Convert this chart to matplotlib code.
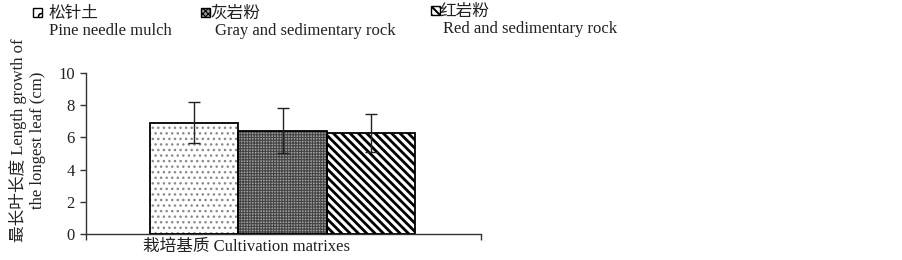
import numpy as np
import matplotlib
matplotlib.use('Agg')
import matplotlib.pyplot as plt
from matplotlib.patches import Rectangle

# Datos
grupos_cn = ['松针土', '灰岩粉', '红岩粉']
grupos_en = ['Pine needle mulch', 'Gray and sedimentary rock', 'Red and sedimentary rock']
medias = [6.9, 6.42, 6.29]
errores = [1.27, 1.4, 1.17]
yticks = [0, 2, 4, 6, 8, 10]
etiqueta_x = '栽培基质 Cultivation matrixes'
etiqueta_y = '最长叶长度 Length growth of\nthe longest leaf (cm)'

fuente = ['Liberation Serif', 'Noto Sans CJK SC', 'DejaVu Sans']
plt.rcParams['font.family'] = fuente
plt.rcParams['font.size'] = 12

# Estilos de relleno de cada barra
estilos = [
    dict(facecolor='white', hatch='...', hcolor='#8a8a8a', hlw=1.0),
    dict(facecolor='#a0a0a0', hatch='++++++', hcolor='#444444', hlw=0.8),
    dict(facecolor='white', hatch='\\\\\\\\', hcolor='black', hlw=2.0),
]

fig = plt.figure(figsize=(9.03, 2.6), dpi=100)
ax = fig.add_axes([86 / 903, 26 / 260, 395 / 903, 161 / 260])

ancho = 0.224
x = 0.4975 + (np.arange(len(medias)) - 1) * ancho

for i, est in enumerate(estilos):
    # relleno con trama
    b = ax.bar(x[i], medias[i], width=ancho, color=est['facecolor'],
               edgecolor=est['hcolor'], hatch=est['hatch'], linewidth=0, zorder=2)
    for p in b:
        if hasattr(p, 'set_hatch_linewidth'):
            p.set_hatch_linewidth(est['hlw'])
    # contorno negro
    ax.bar(x[i], medias[i], width=ancho, fill=False, edgecolor='black',
           linewidth=1.3, zorder=3)

ax.errorbar(x, medias, yerr=errores, fmt='none', ecolor='#222222',
            elinewidth=1.0, capsize=4, capthick=1.0, zorder=4)

ax.set_xlim(0, 1)
ax.set_ylim(0, 10)
ax.set_yticks(yticks)
ax.set_xticks([0, 1])
ax.set_xticklabels(['', ''])
ax.tick_params(axis='both', direction='out', length=4, width=1, colors='#333333',
               labelcolor='#222222', labelsize=12, pad=4)
for lado in ['top', 'right']:
    ax.spines[lado].set_visible(False)
for lado in ['left', 'bottom']:
    ax.spines[lado].set_color('#333333')
    ax.spines[lado].set_linewidth(1.0)

fig.text(247 / 903, 1 - 247 / 260, etiqueta_x, ha='center', va='center',
         fontsize=12, color='#222222')
fig.text(28 / 903, 1 - 140 / 260, etiqueta_y, ha='center', va='center',
         rotation=90, multialignment='center', fontsize=12, color='#222222',
         linespacing=1.25)

# Leyenda dibujada a mano
cuadros = [33, 201, 431]
textos_cn = [48, 210, 439]
textos_en = [49, 215, 443]
y_cn = [12, 12, 10]
y_en = [31, 31, 29]
trama_ley = ['o', 'xxxxxx', '\\\\\\\\']
for i, est in enumerate(estilos):
    r = Rectangle((cuadros[i] / 903, 1 - (y_cn[i] + 4.5) / 260), 9 / 903, 9 / 260,
                  transform=fig.transFigure, facecolor=est['facecolor'],
                  edgecolor='black', hatch=trama_ley[i], linewidth=1.0)
    if hasattr(r, 'set_hatch_linewidth'):
        r.set_hatch_linewidth(1.5 if i == 2 else 0.8)
    fig.add_artist(r)
    fig.text(textos_cn[i] / 903, 1 - (y_cn[i] + 2) / 260, grupos_cn[i], ha='left',
             va='center', fontsize=12, color='#222222')
    fig.text(textos_en[i] / 903, 1 - y_en[i] / 260, grupos_en[i], ha='left',
             va='center', fontsize=12, color='#222222')

fig.savefig('out.png', dpi=100)
